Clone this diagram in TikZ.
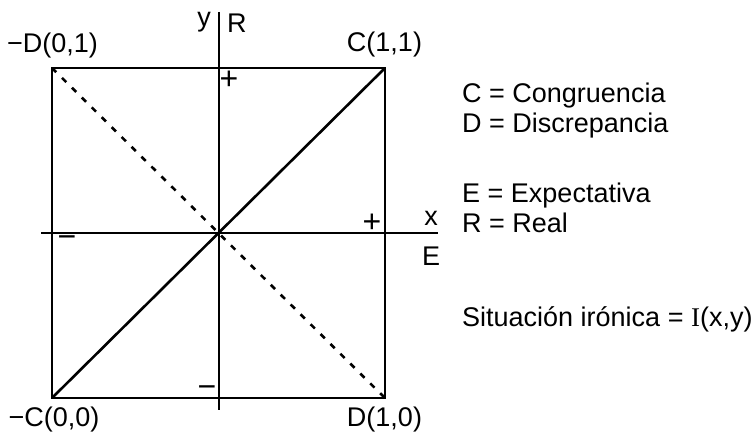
\documentclass[tikz,border=0pt]{standalone}
\usepackage{fontspec}
\setmainfont{Liberation Sans}
\newfontfamily\serifI{Liberation Serif}
\usetikzlibrary{positioning}

\begin{document}
\begin{tikzpicture}[x=1pt, y=-1pt,
    frame/.style={line width=2.6pt, line join=miter},
    axis/.style={line width=2.6pt},
    diagdash/.style={line width=2.6pt, dash pattern=on 6pt off 8pt},
    lbl/.style={inner sep=0pt, font=\fontsize{27}{30}\selectfont},
    sgn/.style={inner sep=0pt, font=\fontsize{32}{34}\selectfont}]
  \useasboundingbox (0,0) rectangle (755,433);
  % corners of the square and origin
  \coordinate (cc) at (385,68);
  \coordinate (dd) at (52,68);
  \coordinate (mc) at (52,398);
  \coordinate (md) at (385,398);
  % axis ends
  \coordinate (ytop) at (219,12);
  \coordinate (ybot) at (219,410);
  \coordinate (xleft) at (41,233);
  \coordinate (xright) at (438,233);

  \draw[frame] (dd) rectangle (md);
  \draw[axis] (ytop) -- (ybot);
  \draw[axis] (xleft) -- (xright);
  \draw[axis] (mc) -- (cc);
  \draw[diagdash] (dd) -- (md);

  % corner labels
  \node[lbl, anchor=base] (lbldd) at (52.5,53) {−D(0,1)};
  \node[lbl, anchor=base] (lblcc) at (384.5,52) {C(1,1)};
  \node[lbl, anchor=base] (lblmc) at (54,426) {−C(0,0)};
  \node[lbl, anchor=base] (lblmd) at (384.5,426) {D(1,0)};

  % axis labels
  \node[lbl, anchor=base] (lbly) at (204,27) {y};
  \node[lbl, anchor=base west] (lblr) at (227,33) {R};
  \node[lbl, anchor=base] (lblx) at (431,225) {x};
  \node[lbl, anchor=base] (lble) at (431,265) {E};

  % signs
  \node[sgn] (plusy) at (229,80) {+};
  \node[sgn] (plusx) at (372,223) {+};
  \node[sgn] (minusx) at (67,242) {−};
  \node[sgn] (minusy) at (207,392) {−};

  % legend
  \node[lbl, anchor=base west] (legc) at (462,103) {C = Congruencia};
  \node[lbl, anchor=base west] (legd) at (462,132) {D = Discrepancia};
  \node[lbl, anchor=base west] (lege) at (462,202) {E = Expectativa};
  \node[lbl, anchor=base west] (legr) at (462,232) {R = Real};
  \node[lbl, anchor=base west] (legi) at (462,326) {Situación irónica = {\serifI I}(x,y)};
\end{tikzpicture}
\end{document}
